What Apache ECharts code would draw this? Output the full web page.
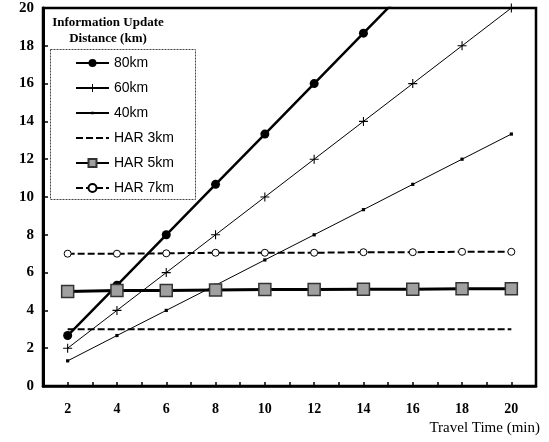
<!DOCTYPE html>
<html>
<head>
<meta charset="utf-8">
<script src="https://cdn.jsdelivr.net/npm/echarts@6/dist/echarts.min.js"></script>
<style>
html,body{margin:0;padding:0;background:#fff;}
#chart{width:549px;height:442px;}
</style>
</head>
<body>
<div id="chart"></div>
<script>
var travelTimes = [2, 4, 6, 8, 10, 12, 14, 16, 18, 20];
var xTickLabels = ['2', '4', '6', '8', '10', '12', '14', '16', '18', '20'];
var yTickLabels = ['0', '2', '4', '6', '8', '10', '12', '14', '16', '18', '20'];
var seriesNames = ['80km', '60km', '40km', 'HAR 3km', 'HAR 5km', 'HAR 7km'];
var v80 = [2.67, 5.33, 8.0, 10.67, 13.33, 16.0, 18.67, 21.33];
var v60 = [2, 4, 6, 8, 10, 12, 14, 16, 18, 20];
var v40 = [1.33, 2.67, 4.0, 5.33, 6.67, 8.0, 9.33, 10.67, 12.0, 13.33];
var vHar3 = [3, 3, 3, 3, 3, 3, 3, 3, 3, 3];
var vHar5 = [5.0, 5.05, 5.05, 5.08, 5.1, 5.1, 5.12, 5.12, 5.15, 5.15];
var vHar7 = [7.0, 7.0, 7.02, 7.05, 7.05, 7.05, 7.08, 7.08, 7.1, 7.1];
var legendTitle = 'Information Update\nDistance (km)';
var xAxisName = 'Travel Time (min)';

function pairs(vals) {
  return vals.map(function (v, i) { return [travelTimes[i], v]; });
}

var plusPath = 'path://M4.4,0H5.6V4.4H10V5.6H5.6V10H4.4V5.6H0V4.4H4.4Z';
var dotPath = 'path://M0,0M10,10M3.4,3.4H6.6V6.6H3.4Z';
var serifFont = '"Liberation Serif", "Times New Roman", serif';
var sansFont = '"Liberation Sans", Arial, sans-serif';

var chart = echarts.init(document.getElementById('chart'), null, {renderer: 'canvas'});
chart.setOption({
  animation: false,
  backgroundColor: '#fff',
  grid: {
    left: 43, right: 13, top: 8, bottom: 56,
    show: true, borderColor: '#000', borderWidth: 2.5, backgroundColor: 'transparent'
  },
  xAxis: {
    type: 'value', min: 1, max: 21, interval: 1,
    name: xAxisName, nameLocation: 'end', nameGap: 4,
    nameTextStyle: {
      fontFamily: serifFont, fontSize: 15, color: '#000',
      align: 'right', verticalAlign: 'top', padding: [35, 0, 0, 0]
    },
    axisLine: {show: true, lineStyle: {color: '#000', width: 2.5}},
    axisTick: {show: true, inside: true, length: 4, lineStyle: {color: '#000', width: 1.5}},
    splitLine: {show: false},
    axisLabel: {
      margin: 16, fontFamily: serifFont, fontWeight: 'bold', fontSize: 14, color: '#000',
      formatter: function (v) {
        var idx = travelTimes.indexOf(v);
        return idx >= 0 ? xTickLabels[idx] : '';
      }
    }
  },
  yAxis: {
    type: 'value', min: 0, max: 20, interval: 2,
    axisLine: {show: true, lineStyle: {color: '#000', width: 3}},
    axisTick: {show: true, inside: true, length: 5, lineStyle: {color: '#000', width: 1.5}},
    splitLine: {show: false},
    axisLabel: {
      margin: 9, fontFamily: serifFont, fontWeight: 'bold', fontSize: 15, color: '#000',
      formatter: function (v) { return yTickLabels[Math.round(v / 2)]; }
    }
  },
  legend: {
    orient: 'vertical', left: 75, top: 56, padding: 0,
    itemWidth: 33, itemHeight: 10, itemGap: 11,
    textStyle: {fontFamily: sansFont, fontSize: 14, color: '#000'},
    data: [
      {name: seriesNames[0]},
      {name: seriesNames[1]},
      {name: seriesNames[2]},
      {name: seriesNames[3], itemStyle: {color: 'rgba(0,0,0,0)', borderColor: 'rgba(0,0,0,0)', borderWidth: 0}},
      {name: seriesNames[4]},
      {name: seriesNames[5]}
    ]
  },
  graphic: [
    {
      type: 'rect', left: 50, top: 49, z: 1,
      shape: {width: 145, height: 150},
      style: {fill: '#fff', stroke: '#444', lineWidth: 1, lineDash: [2, 1]}
    },
    {
      type: 'text', left: 52, top: 15, z: 10,
      style: {
        text: legendTitle, fill: '#000', textAlign: 'center',
        font: 'bold 13px ' + serifFont, lineHeight: 16, width: 112
      }
    }
  ],
  series: [
    {
      name: seriesNames[0], type: 'line', data: pairs(v80), clip: true,
      symbol: 'circle', symbolSize: 9,
      lineStyle: {color: '#000', width: 2.5},
      itemStyle: {color: '#000'}, z: 6
    },
    {
      name: seriesNames[1], type: 'line', data: pairs(v60),
      symbol: plusPath, symbolSize: 9,
      lineStyle: {color: '#000', width: 1},
      itemStyle: {color: '#000'}, z: 5
    },
    {
      name: seriesNames[2], type: 'line', data: pairs(v40),
      symbol: dotPath, symbolSize: 10,
      lineStyle: {color: '#000', width: 1},
      itemStyle: {color: '#000'}, z: 5
    },
    {
      name: seriesNames[3], type: 'line', data: pairs(vHar3),
      symbol: 'none',
      lineStyle: {color: '#000', width: 2, type: [7, 3]},
      itemStyle: {color: '#000'}, z: 4
    },
    {
      name: seriesNames[4], type: 'line', data: pairs(vHar5),
      symbol: 'rect', symbolSize: 12,
      lineStyle: {color: '#000', width: 3},
      itemStyle: {color: '#a0a0a0', borderColor: '#333', borderWidth: 1.5}, z: 7
    },
    {
      name: seriesNames[5], type: 'line', data: pairs(vHar7),
      symbol: 'circle', symbolSize: 7,
      lineStyle: {color: '#000', width: 2, type: [7, 3]},
      itemStyle: {color: '#fff', borderColor: '#000', borderWidth: 1}, z: 4
    }
  ]
});
</script>
</body>
</html>
